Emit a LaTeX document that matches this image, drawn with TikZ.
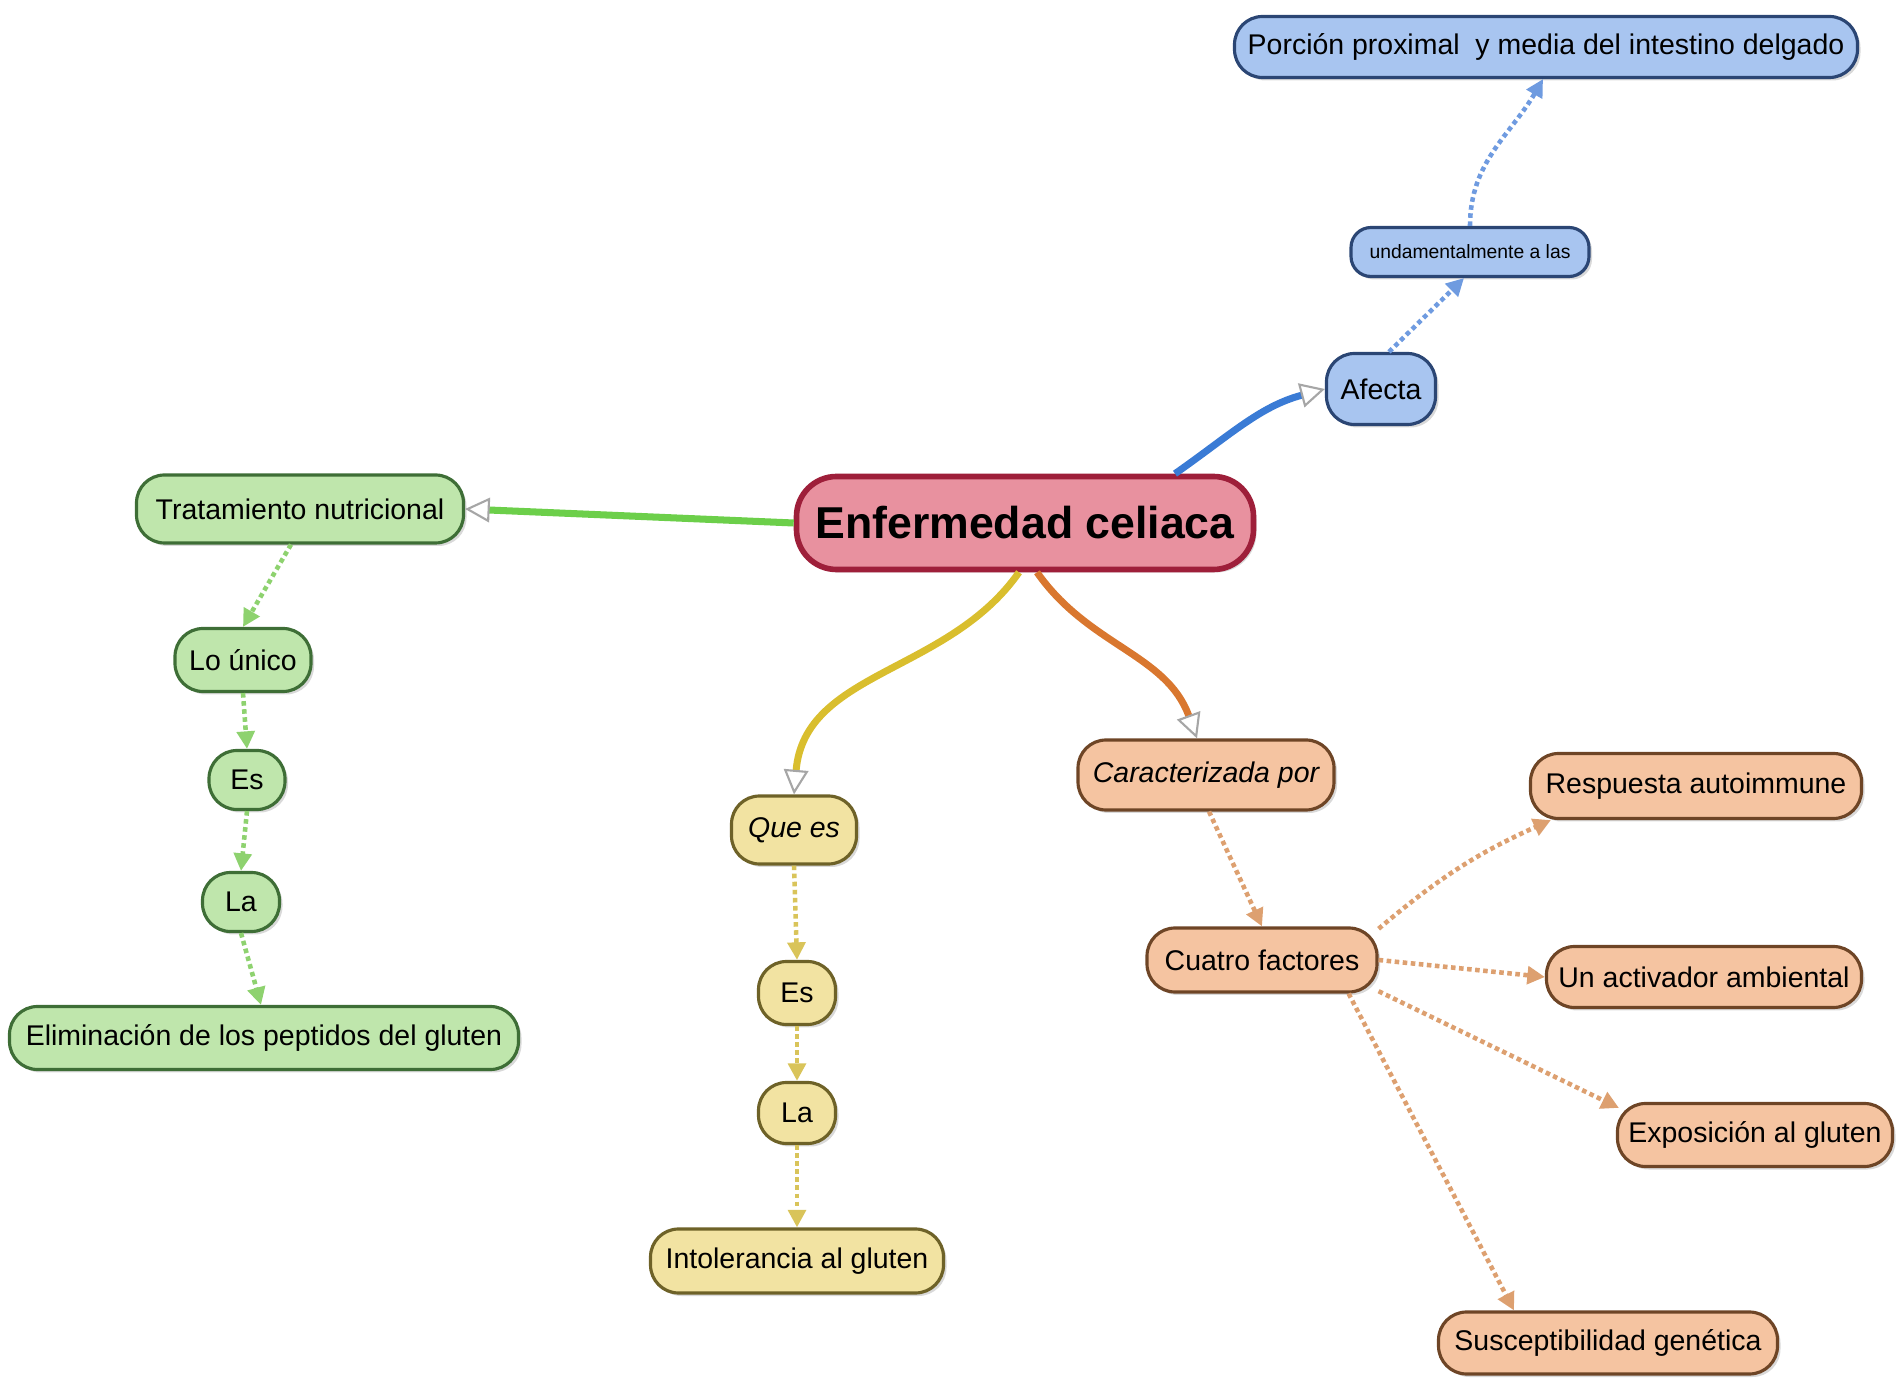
\documentclass[tikz,border=0pt]{standalone}
\usepackage{fontspec}
\setmainfont{Liberation Sans}
\usetikzlibrary{arrows.meta,shadows}

\definecolor{rose}{HTML}{E8919F}
\definecolor{roseb}{HTML}{9E1F3A}
\definecolor{bleu}{HTML}{A8C5F0}
\definecolor{bleub}{HTML}{2B4674}
\definecolor{bleut}{HTML}{3A7BD5}
\definecolor{bleup}{HTML}{6F9BE0}
\definecolor{vert}{HTML}{BFE6AC}
\definecolor{vertb}{HTML}{3E6E36}
\definecolor{vertt}{HTML}{6CCF4A}
\definecolor{vertp}{HTML}{8ED26F}
\definecolor{jaune}{HTML}{F2E3A2}
\definecolor{jauneb}{HTML}{6E6228}
\definecolor{jaunet}{HTML}{D9BE2E}
\definecolor{jaunep}{HTML}{D9C45A}
\definecolor{orangec}{HTML}{F5C4A1}
\definecolor{orangeb}{HTML}{6E4526}
\definecolor{oranget}{HTML}{D9772F}
\definecolor{orangep}{HTML}{DDA070}

\tikzset{
  boite/.style={draw, rounded corners=0.28cm, line width=0.9pt, inner xsep=0.05cm, inner ysep=0pt,
    minimum height=0.62cm, font=\fontsize{8.1}{10}\selectfont,
    drop shadow={opacity=0.3, shadow xshift=0.03cm, shadow yshift=-0.03cm}},
  nrose/.style={boite, fill=rose, draw=roseb},
  nbleu/.style={boite, fill=bleu, draw=bleub},
  nvert/.style={boite, fill=vert, draw=vertb},
  njaune/.style={boite, fill=jaune, draw=jauneb},
  norange/.style={boite, fill=orangec, draw=orangeb},
  branche/.style={line width=2pt, -{Triangle[length=7pt,width=7pt,line width=0.6pt,fill=white,color=gray!70]}},
  lien/.style={densely dotted, line width=1.3pt, -{Triangle[length=5pt,width=5pt]}}
}

\begin{document}
\begin{tikzpicture}
   \useasboundingbox (0,0) rectangle (19.02,-13.81);

    % Noeud central
    \node[nrose, minimum width=4.57cm, minimum height=0.93cm, line width=1.6pt, rounded corners=0.4cm,
      font=\fontsize{12.7}{14}\selectfont\bfseries] (enf) at (10.25,-5.23) {Enfermedad celiaca};

    % Branche bleue
    \node[nbleu, minimum width=1.09cm, minimum height=0.71cm] (afecta) at (13.81,-3.89) {Afecta};
    \node[nbleu, minimum width=2.38cm, minimum height=0.49cm, rounded corners=0.2cm,
      font=\fontsize{5.5}{7}\selectfont] (fund) at (14.70,-2.52) {undamentalmente a las};
    \node[nbleu, minimum width=6.23cm, minimum height=0.61cm] (porcion) at (15.46,-0.47) {Porción proximal\ \ y media del intestino delgado};

    % Branche verte
    \node[nvert, minimum width=3.27cm, minimum height=0.68cm] (trat) at (3.00,-5.09) {Tratamiento nutricional};
    \node[nvert, minimum width=1.36cm, minimum height=0.63cm] (unico) at (2.43,-6.60) {Lo único};
    \node[nvert, minimum width=0.76cm, minimum height=0.59cm] (es1) at (2.47,-7.80) {Es};
    \node[nvert, minimum width=0.77cm, minimum height=0.59cm] (la1) at (2.41,-9.02) {La};
    \node[nvert, minimum width=5.09cm, minimum height=0.63cm] (elim) at (2.64,-10.38) {Eliminación de los peptidos del gluten};

    % Branche jaune
    \node[njaune, minimum width=1.25cm, minimum height=0.68cm, font=\fontsize{8.1}{10}\selectfont\itshape] (quees) at (7.94,-8.30) {Que es};
    \node[njaune, minimum width=0.77cm, minimum height=0.63cm] (es2) at (7.97,-9.93) {Es};
    \node[njaune, minimum width=0.77cm, minimum height=0.61cm] (la2) at (7.97,-11.13) {La};
    \node[njaune, minimum width=2.93cm, minimum height=0.64cm] (intol) at (7.97,-12.61) {Intolerancia al gluten};

    % Branche orange
    \node[norange, minimum width=2.56cm, minimum height=0.70cm, font=\fontsize{8.1}{10}\selectfont\itshape] (carac) at (12.06,-7.75) {Caracterizada por};
    \node[norange, minimum width=2.30cm, minimum height=0.64cm] (cuatro) at (12.62,-9.60) {Cuatro factores};
    \node[norange, minimum width=3.31cm, minimum height=0.65cm] (resp) at (16.96,-7.86) {Respuesta autoimmune};
    \node[norange, minimum width=3.15cm, minimum height=0.61cm] (activ) at (17.04,-9.77) {Un activador ambiental};
    \node[norange, minimum width=2.75cm, minimum height=0.63cm] (expo) at (17.55,-11.35) {Exposición al gluten};
    \node[norange, minimum width=3.39cm, minimum height=0.62cm] (susc) at (16.08,-13.43) {Susceptibilidad genética};

    % Dessine les branches
    \draw[branche, bleut] ([xshift=1.5cm]enf.north) to[out=35,in=195] (afecta.west);
    \draw[branche, vertt] (enf.west) -- (trat.east);
    \draw[branche, jaunet] ([xshift=-0.06cm]enf.south) to[out=-125,in=85] (quees.north);
    \draw[branche, oranget] ([xshift=0.12cm]enf.south) to[out=-55,in=110] ([xshift=-0.09cm]carac.north);

    % Dessine les liens
    \draw[lien, bleup] ([xshift=0.08cm]afecta.north) -- ([xshift=-0.06cm]fund.south);
    \draw[lien, bleup] (fund.north) to[out=90,in=-120] ([xshift=-0.03cm]porcion.south);

    \draw[lien, vertp] ([xshift=-0.09cm]trat.south) -- (unico.north);
    \draw[lien, vertp] (unico.south) -- (es1.north);
    \draw[lien, vertp] (es1.south) -- (la1.north);
    \draw[lien, vertp] (la1.south) -- ([xshift=-0.03cm]elim.north);

    \draw[lien, jaunep] (quees.south) -- (es2.north);
    \draw[lien, jaunep] (es2.south) -- (la2.north);
    \draw[lien, jaunep] (la2.south) -- (intol.north);

    \draw[lien, orangep] ([xshift=0.03cm]carac.south) -- (cuatro.north);
    \draw[lien, orangep] (cuatro.15) to[bend left=8] ([xshift=0.22cm]resp.south west);
    \draw[lien, orangep] (cuatro.east) -- (activ.west);
    \draw[lien, orangep] (cuatro.-15) -- ([xshift=0.03cm,yshift=-0.06cm]expo.north west);
    \draw[lien, orangep] ([xshift=-0.3cm]cuatro.south east) -- ([xshift=-0.94cm]susc.north);

\end{tikzpicture}
\end{document}
